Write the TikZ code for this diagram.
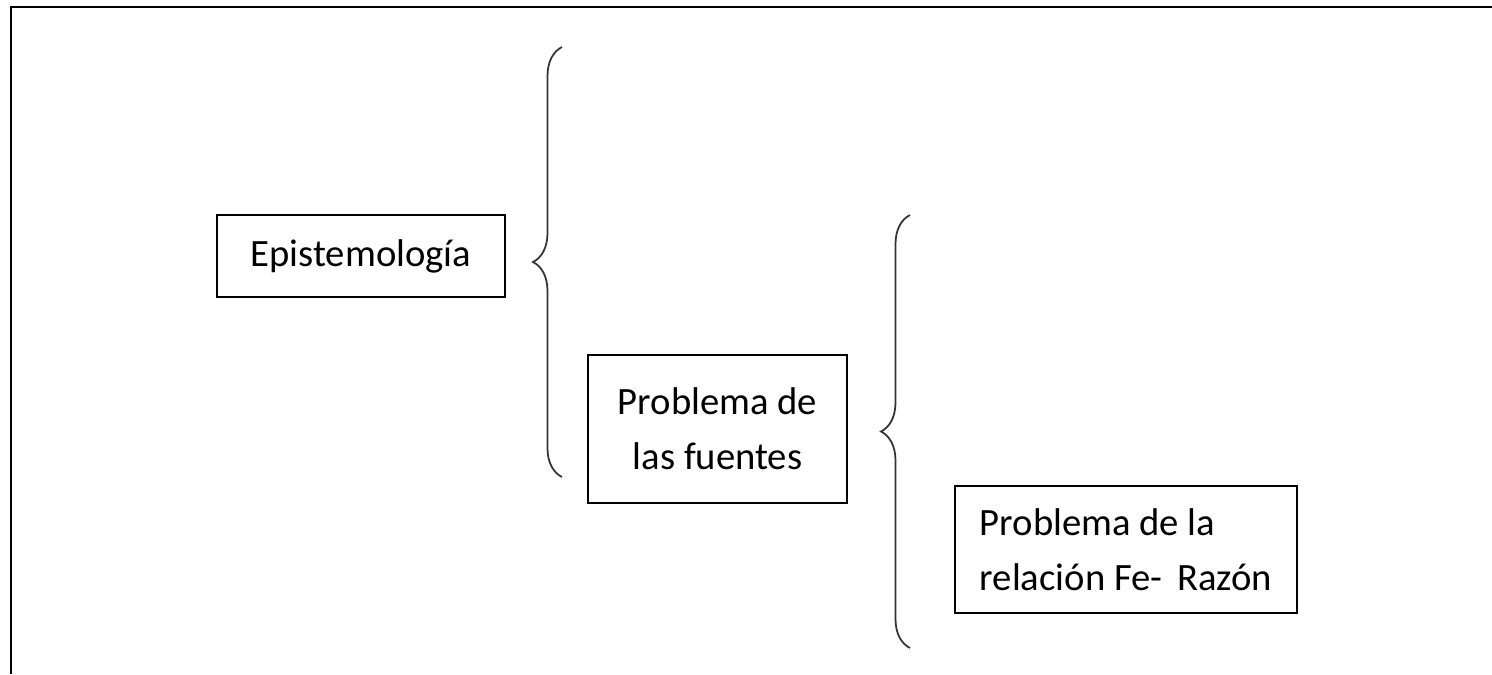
\documentclass[tikz,border=0pt]{standalone}
\usepackage{fontspec}
\setmainfont{Carlito}
\usetikzlibrary{decorations.pathreplacing}

\begin{document}
\begin{tikzpicture}[caja/.style={draw,line width=0.6pt,inner sep=0pt,font=\fontsize{11}{15.6}\selectfont},llave/.style={decorate,decoration={brace,amplitude=0.29cm},line width=0.5pt,draw=black!80}]
	\useasboundingbox (0,0) rectangle (14.92,6.74);
	\draw[line width=0.6pt] (0.11,0) -- (0.11,6.67) -- (14.92,6.67);
	\node[caja,minimum width=2.88cm,minimum height=0.82cm] (epis) at (3.61,4.18) {Epistemología};
	\node[caja,minimum width=2.59cm,minimum height=1.48cm,align=center] (fuentes) at (7.175,2.45) {Problema de\\las fuentes};
	\node[caja,minimum width=3.42cm,minimum height=1.27cm,align=left] (relacion) at (11.26,1.245) {Problema de la\\relación Fe-\, Razón};
	\coordinate (llave1a) at (5.62,1.97);
	\coordinate (llave1b) at (5.62,6.27);
	\coordinate (llave2a) at (9.10,0.26);
	\coordinate (llave2b) at (9.10,4.59);
	\draw[llave] (llave1a) -- (llave1b);
	\draw[llave] (llave2a) -- (llave2b);
\end{tikzpicture}
\end{document}
